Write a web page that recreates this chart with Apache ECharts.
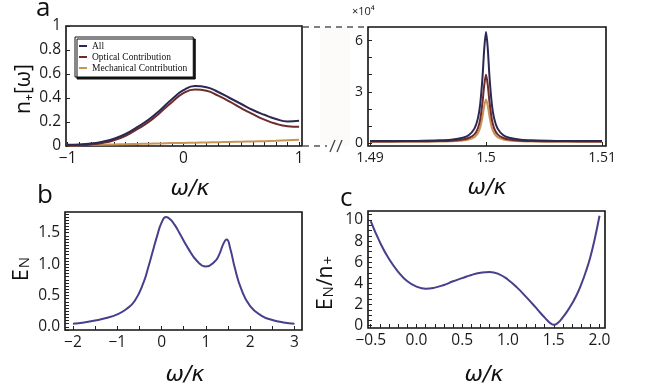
<!DOCTYPE html>
<html>
<head>
<meta charset="utf-8">
<script src="https://cdn.jsdelivr.net/npm/echarts@6/dist/echarts.min.js"></script>
<style>
  html, body { margin: 0; padding: 0; background: #fff; }
  #chart { width: 646px; height: 385px; }
</style>
</head>
<body>
<div id="chart"></div>
<script>
// panel a (left): n+ over -1..1
const xA = [-1, -0.9, -0.8, -0.7, -0.6, -0.5, -0.4, -0.3, -0.2, -0.1, 0, 0.1, 0.2, 0.3, 0.4, 0.5, 0.6, 0.7, 0.8, 0.9, 1]
const allA = [0.01, 0.013, 0.021, 0.036, 0.061, 0.1, 0.157, 0.22, 0.3, 0.39, 0.465, 0.5, 0.49, 0.45, 0.4, 0.35, 0.3, 0.26, 0.225, 0.205, 0.21]
const optA = [0.005, 0.006, 0.012, 0.025, 0.048, 0.085, 0.14, 0.2, 0.28, 0.365, 0.44, 0.47, 0.46, 0.42, 0.37, 0.315, 0.265, 0.22, 0.185, 0.165, 0.16]
const mechA = [0.005, 0.007, 0.009, 0.011, 0.013, 0.015, 0.017, 0.019, 0.021, 0.024, 0.026, 0.028, 0.03, 0.032, 0.034, 0.036, 0.038, 0.04, 0.043, 0.047, 0.052]

// panel a (right): peak near 1.5, values in units of 1e4
const xR = [1.49, 1.492, 1.494, 1.496, 1.497, 1.498, 1.4985, 1.499, 1.4993, 1.4995, 1.4997, 1.49985, 1.5,
            1.50015, 1.5003, 1.5005, 1.5007, 1.501, 1.5015, 1.502, 1.503, 1.504, 1.506, 1.508, 1.51]
const allR = [0.11, 0.11, 0.12, 0.15, 0.19, 0.3, 0.45, 0.84, 1.44, 2.28, 3.88, 5.55, 6.5,
              5.55, 3.88, 2.28, 1.44, 0.84, 0.45, 0.3, 0.19, 0.15, 0.12, 0.11, 0.11]
const optR = [0.09, 0.09, 0.095, 0.11, 0.13, 0.2, 0.29, 0.5, 0.86, 1.38, 2.4, 3.4, 4.0,
              3.4, 2.4, 1.38, 0.86, 0.5, 0.29, 0.2, 0.13, 0.11, 0.095, 0.09, 0.09]
const mechR = [0.065, 0.065, 0.07, 0.08, 0.1, 0.14, 0.2, 0.34, 0.57, 0.9, 1.55, 2.18, 2.55,
               2.18, 1.55, 0.9, 0.57, 0.34, 0.2, 0.14, 0.1, 0.08, 0.07, 0.065, 0.065]

// panel b: E_N
const xB = [-2, -1.75, -1.5, -1.25, -1, -0.8, -0.6, -0.4, -0.3, -0.2, -0.1, 0, 0.1, 0.2, 0.3, 0.4, 0.6, 0.8, 1.0, 1.2, 1.3, 1.4, 1.47, 1.55, 1.65, 1.8, 2.0, 2.25, 2.5, 2.75, 3]
const yB = [0.05, 0.07, 0.1, 0.14, 0.2, 0.28, 0.42, 0.72, 0.95, 1.2, 1.45, 1.66, 1.75, 1.71, 1.62, 1.5, 1.25, 1.05, 0.96, 1.04, 1.15, 1.33, 1.39, 1.25, 0.95, 0.6, 0.33, 0.18, 0.11, 0.07, 0.05]

// panel c: E_N / n+
const xC = [-0.5, -0.4, -0.3, -0.2, -0.1, 0, 0.1, 0.2, 0.3, 0.4, 0.5, 0.6, 0.7, 0.8, 0.9, 1.0, 1.1, 1.2, 1.3, 1.35, 1.4, 1.45, 1.5, 1.55, 1.6, 1.65, 1.7, 1.75, 1.8, 1.85, 1.9, 1.95, 2.0]
const yC = [9.9, 7.9, 6.3, 5.1, 4.2, 3.7, 3.5, 3.6, 3.85, 4.2, 4.5, 4.8, 5.0, 5.08, 4.88, 4.35, 3.6, 2.7, 1.75, 1.25, 0.78, 0.33, 0.08, 0.3, 0.8, 1.4, 2.1, 2.9, 3.9, 5.1, 6.5, 8.3, 10.4]

// tick labels
const ticksAx = [-1, 0, 1]
const ticksAy = [0, 0.2, 0.4, 0.6, 0.8, 1]
const ticksRx = [1.49, 1.5, 1.51]
const ticksRy = [0, 3, 6]
const ticksBx = [-2, -1, 0, 1, 2, 3]
const ticksBy = [0, 0.5, 1.0, 1.5]
const ticksCx = [-0.5, 0, 0.5, 1.0, 1.5, 2.0]
const ticksCy = [0, 2, 4, 6, 8, 10]

const colAll = "#2b2852"
const colOpt = "#6e2b2c"
const colMech = "#c99358"
const colEN = "#463f8c"
const tickFont = "Open Sans"

const pair = (xs, ys) => xs.map((x, i) => [x, ys[i]])
const minus = s => String(s).replace("-", "\u2212")

function minorVals(min, max, step) {
  const out = []
  const start = Math.ceil(min / step - 1e-9)
  for (let k = start; k * step <= max + 1e-9; k++) out.push(+(k * step).toFixed(6))
  return out
}

function axis(gridIndex, min, max, labels, fmt, tickStep, fontSize) {
  return {
    type: "value",
    gridIndex,
    min,
    max,
    splitLine: { show: false },
    axisLine: { show: false, onZero: false },
    axisTick: {
      show: true,
      inside: true,
      length: 4,
      lineStyle: { color: "#222", width: 1 },
      customValues: minorVals(min, max, tickStep)
    },
    axisLabel: {
      customValues: labels,
      formatter: fmt,
      color: "#1a1a1a",
      fontFamily: tickFont,
      fontSize: fontSize || 15.5,
      margin: 5
    }
  }
}

const chart = echarts.init(document.getElementById("chart"))

const gridBase = { show: true, borderColor: "#111", borderWidth: 1.6, backgroundColor: "transparent", containLabel: false }

const lineStyle = (c) => ({ color: c, width: 2 })

chart.setOption({
  animation: false,
  backgroundColor: "#fff",
  grid: [
    { ...gridBase, left: 66, top: 26, width: 236, height: 120 },
    { ...gridBase, left: 368, top: 27, width: 238, height: 119 },
    { ...gridBase, left: 65, top: 212, width: 237, height: 118 },
    { ...gridBase, left: 368, top: 211, width: 237, height: 117 }
  ],
  xAxis: [
    axis(0, -1.015, 1.025, ticksAx, v => minus(v), 0.1),
    axis(1, 1.48983, 1.51034, ticksRx, v => v.toString(), 0.01, 14),
    axis(2, -2.18, 3.17, ticksBx, v => minus(v), 0.5),
    axis(3, -0.53, 2.06, ticksCx, v => minus(v.toFixed(1)), 0.1)
  ],
  yAxis: [
    axis(0, 0, 1, ticksAy, v => v.toString(), 0.2),
    axis(1, -0.18, 6.8, ticksRy, v => v.toString(), 1, 14),
    axis(2, -0.05, 1.83, ticksBy, v => v.toFixed(1), 0.05),
    axis(3, -0.22, 10.85, ticksCy, v => v.toString(), 0.5)
  ],
  legend: {
    left: 75,
    top: 37,
    orient: "vertical",
    data: ["All", "Optical Contribution", "Mechanical Contribution"],
    icon: "rect",
    itemWidth: 8,
    itemHeight: 2,
    itemGap: 1,
    padding: [4, 6, 4, 4],
    backgroundColor: "#fff",
    borderColor: "#111",
    borderWidth: 1,
    shadowColor: "#111",
    shadowBlur: 0,
    shadowOffsetX: 2,
    shadowOffsetY: 2,
    textStyle: { fontFamily: "Liberation Serif", fontSize: 9.5, color: "#111" }
  },
  series: [
    { name: "Mechanical Contribution", type: "line", xAxisIndex: 0, yAxisIndex: 0, data: pair(xA, mechA), smooth: true, showSymbol: false, lineStyle: lineStyle(colMech), itemStyle: { color: colMech } },
    { name: "Optical Contribution", type: "line", xAxisIndex: 0, yAxisIndex: 0, data: pair(xA, optA), smooth: true, showSymbol: false, lineStyle: lineStyle(colOpt), itemStyle: { color: colOpt } },
    { name: "All", type: "line", xAxisIndex: 0, yAxisIndex: 0, data: pair(xA, allA), smooth: true, showSymbol: false, lineStyle: lineStyle(colAll), itemStyle: { color: colAll } },
    { name: "Mechanical Contribution", type: "line", xAxisIndex: 1, yAxisIndex: 1, data: pair(xR, mechR), smooth: 0.3, showSymbol: false, lineStyle: lineStyle(colMech), itemStyle: { color: colMech } },
    { name: "Optical Contribution", type: "line", xAxisIndex: 1, yAxisIndex: 1, data: pair(xR, optR), smooth: 0.3, showSymbol: false, lineStyle: lineStyle(colOpt), itemStyle: { color: colOpt } },
    { name: "All", type: "line", xAxisIndex: 1, yAxisIndex: 1, data: pair(xR, allR), smooth: 0.3, showSymbol: false, lineStyle: lineStyle(colAll), itemStyle: { color: colAll } },
    { name: "EN", type: "line", xAxisIndex: 2, yAxisIndex: 2, data: pair(xB, yB), smooth: true, showSymbol: false, lineStyle: lineStyle(colEN) },
    { name: "ENn", type: "line", xAxisIndex: 3, yAxisIndex: 3, data: pair(xC, yC), smooth: true, showSymbol: false, lineStyle: lineStyle(colEN) }
  ],
  graphic: [
    // faint gap band between the two halves of panel a
    { type: "rect", z: -1, shape: { x: 320, y: 27, width: 30, height: 119 }, style: { fill: "#fdfbf9" } },
    // dashed connectors
    { type: "line", shape: { x1: 303, y1: 27, x2: 367, y2: 27 }, style: { stroke: "#555", lineWidth: 1.3, lineDash: [6, 5] } },
    { type: "line", shape: { x1: 303, y1: 146, x2: 327, y2: 146 }, style: { stroke: "#555", lineWidth: 1.3, lineDash: [6, 5] } },
    { type: "line", shape: { x1: 330, y1: 152, x2: 335, y2: 140 }, style: { stroke: "#444", lineWidth: 1.3 } },
    { type: "line", shape: { x1: 337, y1: 152, x2: 342, y2: 140 }, style: { stroke: "#444", lineWidth: 1.3 } },
    // panel letters
    { type: "text", left: 36, top: -4, style: { text: "a", fontFamily: "Open Sans", fontSize: 26, fill: "#111" } },
    { type: "text", left: 37, top: 183, style: { text: "b", fontFamily: "Open Sans", fontSize: 26, fill: "#111" } },
    { type: "text", left: 340, top: 186, style: { text: "c", fontFamily: "Open Sans", fontSize: 26, fill: "#111" } },
    // exponent label
    { type: "text", x: 352, y: 6, style: { text: "\u00d710\u2074", fontFamily: "Open Sans", fontSize: 11, fill: "#222" } },
    // axis titles
    { type: "text", x: 24, y: 89, rotation: Math.PI / 2, style: { text: "n\u208a[\u03c9]", fontFamily: "Open Sans", fontSize: 21, fill: "#111", align: "center", verticalAlign: "middle" } },
    { type: "text", x: 22, y: 269, rotation: Math.PI / 2, style: {
        text: "{m|E}{s|N}", align: "center", verticalAlign: "middle",
        rich: { m: { fontFamily: "Open Sans", fontSize: 21, fill: "#111" }, s: { fontFamily: "Open Sans", fontSize: 15, fill: "#111", padding: [6, 0, 0, 1] } } } },
    { type: "text", x: 326, y: 283, rotation: Math.PI / 2, style: {
        text: "{m|E}{s|N}{m|/n}{s|+}", align: "center", verticalAlign: "middle",
        rich: { m: { fontFamily: "Open Sans", fontSize: 21, fill: "#111" }, s: { fontFamily: "Open Sans", fontSize: 15, fill: "#111", padding: [6, 0, 0, 1] } } } },
    { type: "text", x: 190, y: 189, style: { text: "\u03c9/\u03ba", fontFamily: "DejaVu Sans", fontStyle: "italic", fontSize: 22, fill: "#111", align: "center", verticalAlign: "middle" } },
    { type: "text", x: 487, y: 188, style: { text: "\u03c9/\u03ba", fontFamily: "DejaVu Sans", fontStyle: "italic", fontSize: 22, fill: "#111", align: "center", verticalAlign: "middle" } },
    { type: "text", x: 185, y: 375, style: { text: "\u03c9/\u03ba", fontFamily: "DejaVu Sans", fontStyle: "italic", fontSize: 22, fill: "#111", align: "center", verticalAlign: "middle" } },
    { type: "text", x: 484, y: 375, style: { text: "\u03c9/\u03ba", fontFamily: "DejaVu Sans", fontStyle: "italic", fontSize: 22, fill: "#111", align: "center", verticalAlign: "middle" } }
  ]
})
</script>
</body>
</html>
